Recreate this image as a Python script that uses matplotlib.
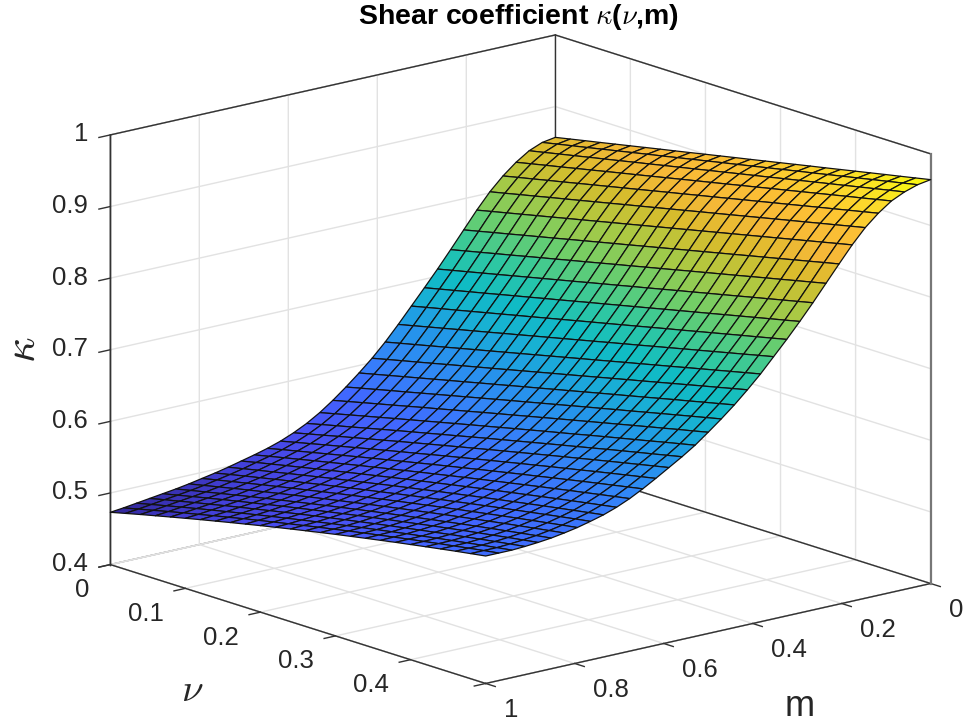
import numpy as np
import matplotlib
matplotlib.use("Agg")
import matplotlib.pyplot as plt
from matplotlib.colors import LinearSegmentedColormap, Normalize

plt.rcParams['font.family'] = ['Liberation Sans', 'DejaVu Sans']
plt.rcParams['mathtext.fontset'] = 'cm'

nu_values = [0.00, 0.02, 0.04, 0.06, 0.08, 0.10, 0.12, 0.14, 0.16, 0.18, 0.20, 0.22, 0.24,
             0.26, 0.28, 0.30, 0.32, 0.34, 0.36, 0.38, 0.40, 0.42, 0.44, 0.46, 0.48, 0.50]
m_values = np.linspace(0, 1, 35)

# kappa, in 1e-4 units: one row per m, one column per nu
kappa_table = [
    [8570,8613,8656,8698,8741,8784,8827,8870,8912,8955,8998,9041,9084,9126,9169,9212,9255,9298,9340,9383,9426,9469,9512,9554,9597,9640],
    [8540,8583,8626,8668,8711,8754,8797,8840,8882,8925,8968,9011,9054,9096,9139,9182,9225,9268,9310,9353,9396,9439,9482,9524,9567,9610],
    [8465,8508,8552,8595,8639,8682,8725,8769,8812,8856,8899,8942,8986,9029,9073,9116,9159,9203,9246,9290,9333,9376,9420,9463,9507,9550],
    [8345,8390,8435,8479,8524,8569,8614,8659,8703,8748,8793,8838,8883,8927,8972,9017,9062,9107,9151,9196,9241,9286,9331,9375,9420,9465],
    [8195,8241,8286,8332,8377,8423,8469,8514,8560,8605,8651,8697,8742,8788,8833,8879,8925,8970,9016,9061,9107,9153,9198,9244,9289,9335],
    [8015,8061,8108,8154,8201,8247,8293,8340,8386,8433,8479,8525,8572,8618,8665,8711,8757,8804,8850,8897,8943,8989,9036,9082,9129,9175],
    [7800,7847,7894,7941,7988,8035,8082,8129,8176,8223,8270,8317,8364,8411,8458,8505,8552,8599,8646,8693,8740,8787,8834,8881,8928,8975],
    [7565,7612,7660,7707,7755,7802,7849,7897,7944,7992,8039,8086,8134,8181,8229,8276,8323,8371,8418,8466,8513,8560,8608,8655,8703,8750],
    [7330,7378,7425,7473,7520,7568,7616,7663,7711,7758,7806,7854,7901,7949,7996,8044,8092,8139,8187,8234,8282,8330,8377,8425,8472,8520],
    [7100,7148,7195,7243,7290,7338,7386,7433,7481,7528,7576,7624,7671,7719,7766,7814,7862,7909,7957,8004,8052,8100,8147,8195,8242,8290],
    [6880,6928,6975,7023,7070,7118,7166,7213,7261,7308,7356,7404,7451,7499,7546,7594,7642,7689,7737,7784,7832,7880,7927,7975,8022,8070],
    [6665,6713,6761,6808,6856,6904,6952,7000,7047,7095,7143,7191,7239,7286,7334,7382,7430,7478,7525,7573,7621,7669,7717,7764,7812,7860],
    [6450,6498,6547,6595,6644,6692,6740,6789,6837,6886,6934,6982,7031,7079,7128,7176,7224,7273,7321,7370,7418,7466,7515,7563,7612,7660],
    [6245,6294,6342,6391,6439,6488,6537,6585,6634,6682,6731,6780,6828,6877,6925,6974,7023,7071,7120,7168,7217,7266,7314,7363,7411,7460],
    [6060,6109,6158,6206,6255,6304,6353,6402,6450,6499,6548,6597,6646,6694,6743,6792,6841,6890,6938,6987,7036,7085,7134,7182,7231,7280],
    [5895,5944,5993,6042,6091,6140,6189,6237,6287,6335,6384,6433,6481,6530,6578,6627,6676,6724,6772,6820,6869,6918,6965,7014,7061,7110],
    [5740,5790,5839,5889,5937,5987,6036,6085,6134,6183,6232,6281,6329,6378,6426,6475,6524,6571,6620,6667,6716,6764,6812,6860,6907,6955],
    [5595,5645,5695,5745,5794,5844,5894,5942,5992,6040,6090,6139,6187,6236,6284,6333,6381,6429,6477,6525,6573,6621,6668,6716,6762,6810],
    [5465,5515,5565,5615,5664,5714,5763,5812,5861,5910,5959,6007,6055,6104,6152,6200,6247,6294,6343,6390,6437,6483,6530,6578,6624,6670],
    [5355,5405,5455,5504,5554,5604,5653,5702,5750,5799,5847,5896,5944,5991,6039,6086,6134,6181,6227,6274,6321,6367,6413,6458,6504,6550],
    [5265,5315,5364,5414,5463,5512,5560,5609,5657,5705,5752,5800,5847,5894,5941,5987,6034,6080,6126,6171,6217,6262,6307,6351,6396,6440],
    [5190,5239,5287,5336,5383,5431,5479,5526,5573,5619,5666,5713,5758,5804,5849,5894,5939,5983,6028,6071,6115,6159,6202,6245,6287,6330],
    [5130,5178,5225,5271,5318,5364,5411,5456,5501,5546,5591,5636,5680,5723,5767,5810,5853,5896,5937,5980,6021,6063,6104,6144,6185,6225],
    [5080,5126,5172,5217,5263,5307,5352,5396,5439,5483,5526,5569,5611,5653,5695,5736,5777,5817,5858,5898,5937,5977,6015,6054,6092,6130],
    [5035,5081,5125,5170,5213,5257,5301,5343,5386,5428,5470,5512,5552,5593,5633,5673,5713,5751,5790,5828,5866,5904,5941,5978,6014,6050],
    [4990,5035,5080,5123,5167,5210,5253,5296,5337,5378,5420,5461,5501,5540,5580,5619,5657,5696,5733,5770,5807,5844,5880,5915,5950,5985],
    [4950,4995,5040,5083,5127,5170,5212,5255,5296,5338,5379,5418,5459,5498,5537,5576,5613,5651,5688,5725,5761,5796,5832,5867,5902,5935],
    [4915,4960,5004,5048,5092,5135,5177,5219,5261,5302,5342,5382,5422,5461,5499,5537,5575,5612,5648,5684,5720,5755,5789,5823,5857,5890],
    [4880,4925,4970,5015,5059,5102,5145,5187,5229,5270,5310,5350,5390,5429,5467,5505,5543,5580,5616,5652,5687,5722,5756,5789,5822,5855],
    [4850,4896,4941,4986,5030,5074,5117,5159,5201,5242,5283,5323,5363,5402,5440,5478,5515,5552,5588,5624,5659,5693,5727,5760,5793,5825],
    [4825,4871,4917,4963,5008,5052,5095,5138,5181,5222,5263,5303,5343,5383,5421,5459,5496,5533,5570,5605,5640,5674,5707,5741,5773,5805],
    [4800,4848,4894,4941,4985,5031,5075,5118,5161,5203,5245,5286,5326,5366,5404,5443,5481,5517,5554,5589,5625,5659,5693,5726,5758,5790],
    [4775,4823,4871,4919,4965,5011,5055,5100,5144,5187,5229,5270,5311,5352,5391,5430,5468,5505,5543,5578,5614,5648,5682,5716,5748,5780],
    [4750,4800,4849,4898,4946,4992,5039,5084,5130,5174,5217,5259,5301,5343,5383,5423,5462,5500,5538,5575,5610,5646,5680,5715,5748,5780],
    [4730,4781,4832,4881,4930,4978,5026,5072,5118,5163,5208,5251,5294,5336,5377,5418,5457,5496,5534,5572,5608,5644,5679,5714,5747,5780],
]

m_ticks = [0, 0.2, 0.4, 0.6, 0.8, 1]
m_tick_labels = ['0', '0.2', '0.4', '0.6', '0.8', '1']
nu_ticks = [0, 0.1, 0.2, 0.3, 0.4, 0.5]
nu_tick_labels = ['0', '0.1', '0.2', '0.3', '0.4', '']
z_ticks = [0.4, 0.5, 0.6, 0.7, 0.8, 0.9, 1.0]
z_tick_labels = ['0.4', '0.5', '0.6', '0.7', '0.8', '0.9', '1']

# lit parula as seen on the surface
color_levels = [0.473, 0.50, 0.53, 0.57, 0.61, 0.65, 0.68, 0.71, 0.74, 0.78, 0.82, 0.85, 0.88, 0.91, 0.94, 0.965]
color_values = ['#33279a', '#4240d8', '#4a50f4', '#4068ff', '#3484f8', '#2298e8', '#18b0d4', '#10bcc4',
                '#30c8a0', '#70ce68', '#b0c840', '#d8bc2c', '#f6b838', '#fcc034', '#fcdc2a', '#f8fa10']

W, H = 968, 725
low, high = color_levels[0], color_levels[-1]
cmap = LinearSegmentedColormap.from_list(
    'lit_parula', [((v - low) / (high - low), c) for v, c in zip(color_levels, color_values)], N=256)

fig = plt.figure(figsize=(W / 100, H / 100), dpi=100)
ax = fig.add_axes([53.7 / W, -101 / H, 909 / W, 909 / H], projection='3d', proj_type='ortho',
                  computed_zorder=False)
ax.view_init(elev=15.47, azim=49.9)
ax.set_box_aspect((582, 583, 446))

M, N = np.meshgrid(m_values, nu_values, indexing='ij')
kappa = np.array(kappa_table) / 10000
ax.plot_surface(M, N, kappa, rcount=35, ccount=26, cmap=cmap, norm=Normalize(low, high),
                edgecolor='#111111', linewidth=0.9, shade=False, antialiased=True, zorder=3)

# box edges go over the end gridlines
frame = [((1, 0), (0, 0), (1, 1)), ((0, 0), (0, 0.5), (1, 1)), ((1, 1), (0, 0), (0.4, 0.4)),
         ((0, 0), (0, 0.5), (0.4, 0.4)), ((1, 1), (0, 0), (0.4, 1)), ((0, 0), (0, 0), (0.4, 1))]
for xs, ys, zs in frame:
    ax.plot(xs, ys, zs, color='#333333', lw=1.0, zorder=1)
ax.plot((0, 0), (0.5, 0.5), (0.4, 1), color='#777777', lw=1.6, zorder=1)

ax.set_xlim(0, 1)
ax.set_ylim(0, 0.5)
ax.set_zlim(0.4, 1)
ax.set_xticks(m_ticks, m_tick_labels)
ax.set_yticks(nu_ticks, nu_tick_labels)
ax.set_zticks(z_ticks, z_tick_labels)

for axis, pad, ha in [(ax.xaxis, 8.4, 'left'), (ax.yaxis, 8.4, 'right'), (ax.zaxis, 1.2, 'right')]:
    axis.pane.set_facecolor((1, 1, 1, 0))
    axis.pane.set_edgecolor('#333333')
    axis.pane.set_linewidth(1.0)
    axis.line.set_color('#333333')
    axis.line.set_linewidth(1.0)
    axis._axinfo['grid'].update(color='#e2e2e2', linewidth=1.0)
    axis._axinfo['tick'].update(inward_factor=0.32, outward_factor=0, linewidth={True: 1.0, False: 0.5}, color='#333333')
    axis.set_tick_params(labelsize=18.5, labelcolor='#262626', pad=pad, color='#333333')
    for label in axis.get_ticklabels():
        label.set_ha(ha)
        label.set_va('center')

fig.text(518 / W, 1 - 17 / H, r'Shear coefficient $\kappa$($\nu$,m)', ha='center', va='center',
         fontsize=20.5, fontweight='bold', color='black')
fig.text(23 / W, 1 - 350 / H, r'$\kappa$', rotation=90, ha='center', va='center', fontsize=32, color='#262626')
fig.text(192 / W, 1 - 691 / H, r'$\nu$', ha='center', va='center', fontsize=28, color='#262626')
fig.text(800 / W, 1 - 706 / H, 'm', ha='center', va='center', fontsize=26, color='#262626')

fig.savefig('out.png', dpi=100)
